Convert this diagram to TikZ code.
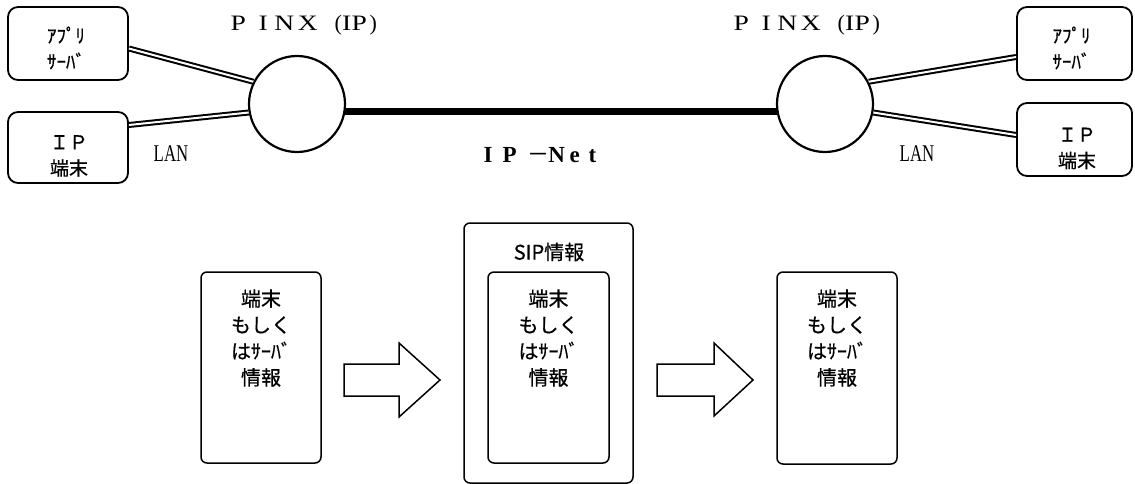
\documentclass[tikz,border=0pt]{standalone}
\usepackage{fontspec}
\usepackage{graphicx}
\setmainfont{Liberation Serif}
\newfontfamily\jp{Noto Sans CJK JP}[FakeBold=0.6]
\newcommand\hsq[1]{\scalebox{1.25}[1]{#1}}
\newcommand\zc[1]{\makebox[0pt]{#1}}
\pgfdeclarelayer{bg}
\pgfsetlayers{bg,main}
\begin{document}
\begin{tikzpicture}[x=1pt,y=-1pt,
  topbox/.style={draw,line width=1.8pt,rounded corners=10pt,inner sep=0pt},
  infobox/.style={draw,line width=1.5pt,rounded corners=6pt,inner sep=0pt},
  pinx/.style={circle,draw,line width=2.2pt,fill=white,minimum size=96pt,inner sep=0pt},
  dbl/.style={draw,line width=2pt,double=white,double distance=2pt},
  jptop/.style={font=\jp\fontsize{19pt}{26pt}\selectfont,align=center,inner sep=0pt},
  jpinfo/.style={font=\jp\fontsize{20pt}{26.3pt}\selectfont,align=center,inner sep=0pt},
  fat/.style={draw,line width=1.5pt,fill=white,line join=miter},
  pinxlabel/.style={font=\fontsize{22pt}{26pt}\selectfont,inner sep=0pt,anchor=base west},
  lan/.style={font=\fontsize{24pt}{26pt}\selectfont,inner sep=0pt,anchor=base},
  netlabel/.style={font=\bfseries\fontsize{23pt}{26pt}\selectfont,inner sep=0pt,anchor=base west}
]
\useasboundingbox (0,0) rectangle (1135,484);

% top boxes
\node[topbox,minimum width=120pt,minimum height=73pt] (b1) at (68,43.5) {};
\node[topbox,minimum width=120pt,minimum height=71pt] (b2) at (68,147.5) {};
\node[topbox,minimum width=115pt,minimum height=73pt] (b3) at (1074.5,43.5) {};
\node[topbox,minimum width=115pt,minimum height=73pt] (b4) at (1074.5,139.5) {};
\node[jptop] (b1t) at (66,48) {ｱﾌﾟﾘ\\ｻｰﾊﾞ};
\node[jptop] (b2t) at (69,156) {ＩＰ\\端末};
\node[jptop] (b3t) at (1071.5,48) {ｱﾌﾟﾘ\\ｻｰﾊﾞ};
\node[jptop] (b4t) at (1077,148.5) {ＩＰ\\端末};

% PINX circles
\node[pinx] (c1) at (297,104) {};
\node[pinx] (c2) at (825,104) {};

\begin{pgfonlayer}{bg}
\draw[line width=7.5pt] ([yshift=-7.5pt]c1.center) -- ([yshift=-7.5pt]c2.center);
\end{pgfonlayer}

% LAN lines
\draw[dbl] ([yshift=-5pt]b1.east) -- (c1.153);
\draw[dbl] ([yshift=22.5pt]b2.east) -- (c1.190);
\draw[dbl] (c2.27) -- ([yshift=-13.5pt]b3.west);
\draw[dbl] (c2.-10) -- ([yshift=4.5pt]b4.west);

% labels
\node[pinxlabel] (p1) at (238,31) {\zc{\hsq{P}}\hspace{25pt}\zc{\hsq{I}}\hspace{21pt}\zc{\hsq{N}}\hspace{23.5pt}\zc{\hsq{X}}\hspace{30.5pt}\zc{(}\hspace{8.5pt}\zc{\hsq{I}}\hspace{12.5pt}\zc{\hsq{P}}\hspace{14pt}\zc{)}};
\node[pinxlabel] (p2) at (741,31) {\zc{\hsq{P}}\hspace{25pt}\zc{\hsq{I}}\hspace{21pt}\zc{\hsq{N}}\hspace{23.5pt}\zc{\hsq{X}}\hspace{30.5pt}\zc{(}\hspace{8.5pt}\zc{\hsq{I}}\hspace{12.5pt}\zc{\hsq{P}}\hspace{14pt}\zc{)}};
\node[lan] (lan1) at (171,161) {\scalebox{0.7}[1]{LAN}};
\node[lan] (lan2) at (917,161) {\scalebox{0.7}[1]{LAN}};
\node[netlabel] (net) at (488,162) {\zc{I}\hspace{21.5pt}\zc{P}\hspace{28.5pt}\zc{\raisebox{2.5pt}{\scalebox{1.35}[1]{–}}}\hspace{18.5pt}\zc{N}\hspace{18pt}\zc{e}\hspace{17.7pt}\zc{t}};

% bottom
\node[infobox,minimum width=120pt,minimum height=191pt] (ia) at (261,367.5) {};
\node[infobox,minimum width=169pt,minimum height=260pt] (ibo) at (548.5,353) {};
\node[infobox,minimum width=121pt,minimum height=191pt] (ibi) at (548.5,367.5) {};
\node[infobox,minimum width=120pt,minimum height=192pt] (ic) at (837,368) {};

\node[jpinfo] (iat) at (261,338) {端末\\もしく\\はｻｰﾊﾞ\\情報};
\node[jpinfo] (ibt) at (548.5,338) {端末\\もしく\\はｻｰﾊﾞ\\情報};
\node[jpinfo] (ict) at (837,338) {端末\\もしく\\はｻｰﾊﾞ\\情報};
\node[jpinfo] (sip) at (549,252) {SIP情報};

\draw[fat] (344,364) -- (399,364) -- (399,343) -- (440,380) -- (399,417) -- (399,396) -- (344,396) -- cycle;
\draw[fat] (657,364) -- (714,364) -- (714,343) -- (753,380) -- (714,416) -- (714,396) -- (657,396) -- cycle;
\end{tikzpicture}
\end{document}
